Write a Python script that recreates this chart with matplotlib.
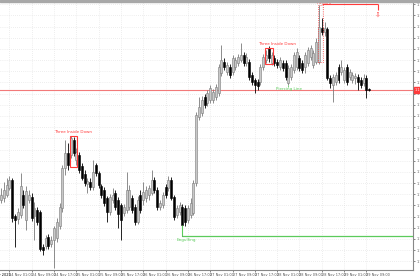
import numpy as np
import pandas as pd
import matplotlib
matplotlib.use("Agg")
import matplotlib.pyplot as plt
from matplotlib.patches import Rectangle
from matplotlib.transforms import blended_transform_factory

# hourly candles
opens = [1.1800, 1.1802, 1.1805, 1.1812, 1.1820, 1.1784, 1.1781, 1.1785, 1.1805, 1.1780,
         1.1800, 1.1803, 1.1784, 1.1790, 1.1788, 1.1753, 1.1754, 1.1763, 1.1756, 1.1760,
         1.1762, 1.1774, 1.1792, 1.1832, 1.1847, 1.1845, 1.1860, 1.1840, 1.1845, 1.1834,
         1.1826, 1.1816, 1.1818, 1.1813, 1.1835, 1.1827, 1.1814, 1.1810, 1.1802, 1.1788,
         1.1800, 1.1807, 1.1800, 1.1795, 1.1787, 1.1790, 1.1793, 1.1802, 1.1793, 1.1778,
         1.1805, 1.1800, 1.1802, 1.1805, 1.1807, 1.1820, 1.1810, 1.1793, 1.1795, 1.1813,
         1.1812, 1.1820, 1.1803, 1.1785, 1.1788, 1.1793, 1.1792, 1.1780, 1.1785, 1.1787,
         1.1817, 1.1883, 1.1887, 1.1903, 1.1897, 1.1900, 1.1900, 1.1903, 1.1907, 1.1927,
         1.1938, 1.1928, 1.1933, 1.1928, 1.1933, 1.1937, 1.1940, 1.1945, 1.1937, 1.1938,
         1.1925, 1.1920, 1.1918, 1.1918, 1.1933, 1.1940, 1.1952, 1.1937, 1.1942, 1.1938,
         1.1933, 1.1937, 1.1937, 1.1917, 1.1923, 1.1930, 1.1933, 1.1942, 1.1937, 1.1933,
         1.1937, 1.1943, 1.1935, 1.1938, 1.1938, 1.1972, 1.1968, 1.1971, 1.1922, 1.1915,
         1.1918, 1.1933, 1.1928, 1.1920, 1.1933, 1.1923, 1.1920, 1.1922, 1.1923, 1.1920,
         1.1917, 1.1922, 1.1911]
highs = [1.1812, 1.1818, 1.1822, 1.1824, 1.1822, 1.1786, 1.1792, 1.1827, 1.1810, 1.1814,
         1.1810, 1.1807, 1.1798, 1.1793, 1.1790, 1.1756, 1.1765, 1.1766, 1.1764, 1.1774,
         1.1782, 1.1797, 1.1835, 1.1860, 1.1857, 1.1864, 1.1863, 1.1852, 1.1848, 1.1837,
         1.1830, 1.1822, 1.1822, 1.1840, 1.1837, 1.1829, 1.1816, 1.1813, 1.1804, 1.1806,
         1.1812, 1.1810, 1.1803, 1.1797, 1.1796, 1.1828, 1.1815, 1.1805, 1.1796, 1.1804,
         1.1810, 1.1818, 1.1814, 1.1815, 1.1830, 1.1823, 1.1813, 1.1800, 1.1808, 1.1816,
         1.1824, 1.1823, 1.1805, 1.1795, 1.1798, 1.1796, 1.1795, 1.1795, 1.1802, 1.1820,
         1.1888, 1.1903, 1.1904, 1.1906, 1.1910, 1.1915, 1.1911, 1.1916, 1.1936, 1.1955,
         1.1942, 1.1938, 1.1936, 1.1945, 1.1943, 1.1946, 1.1957, 1.1948, 1.1947, 1.1941,
         1.1928, 1.1922, 1.1921, 1.1936, 1.1946, 1.1950, 1.1954, 1.1948, 1.1945, 1.1941,
         1.1943, 1.1940, 1.1940, 1.1935, 1.1936, 1.1948, 1.1952, 1.1945, 1.1940, 1.1948,
         1.1953, 1.1955, 1.1950, 1.1962, 1.1995, 1.1982, 1.1978, 1.1973, 1.1925, 1.1926,
         1.1928, 1.1936, 1.1940, 1.1933, 1.1936, 1.1931, 1.1928, 1.1927, 1.1926, 1.1923,
         1.1926, 1.1925, 1.1912]
lows = [1.1797, 1.1798, 1.1803, 1.1810, 1.1778, 1.1753, 1.1776, 1.1782, 1.1792, 1.1770,
        1.1797, 1.1779, 1.1760, 1.1775, 1.1749, 1.1745, 1.1751, 1.1751, 1.1753, 1.1732,
        1.1758, 1.1771, 1.1788, 1.1825, 1.1830, 1.1842, 1.1844, 1.1835, 1.1827, 1.1820,
        1.1814, 1.1807, 1.1810, 1.1810, 1.1824, 1.1812, 1.1802, 1.1794, 1.1778, 1.1785,
        1.1797, 1.1790, 1.1772, 1.1760, 1.1784, 1.1787, 1.1790, 1.1787, 1.1775, 1.1776,
        1.1787, 1.1795, 1.1798, 1.1800, 1.1805, 1.1807, 1.1790, 1.1790, 1.1792, 1.1802,
        1.1809, 1.1800, 1.1780, 1.1782, 1.1785, 1.1764, 1.1774, 1.1777, 1.1782, 1.1785,
        1.1814, 1.1880, 1.1884, 1.1892, 1.1894, 1.1897, 1.1897, 1.1900, 1.1904, 1.1924,
        1.1930, 1.1925, 1.1922, 1.1925, 1.1930, 1.1934, 1.1938, 1.1934, 1.1934, 1.1920,
        1.1915, 1.1907, 1.1910, 1.1915, 1.1930, 1.1937, 1.1938, 1.1935, 1.1934, 1.1932,
        1.1930, 1.1929, 1.1920, 1.1915, 1.1920, 1.1927, 1.1930, 1.1929, 1.1927, 1.1927,
        1.1934, 1.1940, 1.1932, 1.1936, 1.1936, 1.1965, 1.1964, 1.1920, 1.1912, 1.1898,
        1.1915, 1.1917, 1.1925, 1.1917, 1.1915, 1.1920, 1.1917, 1.1916, 1.1910, 1.1912,
        1.1914, 1.1902, 1.1909]
closes = [1.1805, 1.1810, 1.1815, 1.1820, 1.1782, 1.1780, 1.1788, 1.1814, 1.1795, 1.1809,
          1.1805, 1.1782, 1.1792, 1.1778, 1.1751, 1.1750, 1.1762, 1.1754, 1.1760, 1.1772,
          1.1778, 1.1793, 1.1832, 1.1847, 1.1835, 1.1862, 1.1847, 1.1848, 1.1830, 1.1822,
          1.1817, 1.1819, 1.1813, 1.1828, 1.1827, 1.1815, 1.1805, 1.1797, 1.1788, 1.1803,
          1.1805, 1.1793, 1.1786, 1.1780, 1.1793, 1.1810, 1.1810, 1.1790, 1.1778, 1.1800,
          1.1790, 1.1808, 1.1810, 1.1812, 1.1820, 1.1810, 1.1793, 1.1797, 1.1805, 1.1805,
          1.1820, 1.1802, 1.1783, 1.1792, 1.1795, 1.1775, 1.1778, 1.1792, 1.1797, 1.1817,
          1.1885, 1.1893, 1.1900, 1.1895, 1.1907, 1.1912, 1.1908, 1.1913, 1.1933, 1.1940,
          1.1933, 1.1935, 1.1925, 1.1942, 1.1940, 1.1943, 1.1945, 1.1937, 1.1943, 1.1923,
          1.1918, 1.1915, 1.1914, 1.1933, 1.1943, 1.1945, 1.1942, 1.1945, 1.1937, 1.1935,
          1.1940, 1.1932, 1.1923, 1.1932, 1.1933, 1.1945, 1.1948, 1.1932, 1.1930, 1.1945,
          1.1950, 1.1952, 1.1947, 1.1958, 1.1973, 1.1968, 1.1972, 1.1922, 1.1917, 1.1923,
          1.1925, 1.1920, 1.1933, 1.1930, 1.1918, 1.1928, 1.1925, 1.1924, 1.1918, 1.1915,
          1.1922, 1.1910, 1.1910]

start_time = "2025-11-23 22:00"
first_label = "23 Nov 2025"
price_levels = [1.19957 - 0.001117 * k for k in range(24)]

# pattern marks
pattern_up = "Three Inside Down"
harami_label = "Harami"
piercing_label = "Piercing Line"
engulf_label = "Engulfing"
piercing_level = 1.1910
engulf_level = 1.1764
harami_level = 1.19957

o = np.array(opens)
h = np.array(highs)
l = np.array(lows)
c = np.array(closes)
x = np.arange(len(o))
times = pd.date_range(start_time, periods=len(o), freq="h")

fig = plt.figure(figsize=(4.2, 2.8), dpi=100)
ax = fig.add_axes([0, 10 / 280, 413 / 420, 268 / 280])
fig.patches.append(Rectangle((0, 278 / 280), 1, 2 / 280, transform=fig.transFigure,
                             color="#a8a8a8", zorder=5))

red = "#ff3b3b"
green = "#5ccb5c"
up = c >= o

ax.vlines(x[up], l[up], h[up], color="#7a7a7a", lw=0.6, zorder=3)
ax.vlines(x[~up], l[~up], h[~up], color="black", lw=0.6, zorder=3)
ax.bar(x[up], np.maximum(c[up] - o[up], 0.00005), bottom=o[up], width=0.7,
       color="#c8c8c8", edgecolor="#7a7a7a", lw=0.4, zorder=4)
ax.bar(x[~up], c[~up] - o[~up], bottom=o[~up], width=0.7,
       color="black", edgecolor="black", lw=0.4, zorder=4)

# horizontal levels
ax.axhline(piercing_level, color="#f27a7a", lw=0.8, zorder=2)
ax.hlines(engulf_level, 65, 160, color=green, lw=0.9, zorder=2)
ax.vlines(65, engulf_level, 1.1775, color=green, lw=0.8, zorder=5)
ax.text(66.3, engulf_level - 0.0002, engulf_label, color=green, fontsize=3,
        ha="center", va="top")

# three inside down boxes
ax.add_patch(Rectangle((24.6, 1.1833), 2.8, 0.0031, fill=False, ec=red, lw=0.8, zorder=5))
ax.text(26, 1.1866, pattern_up, color=red, fontsize=3, ha="center", va="bottom")
ax.add_patch(Rectangle((94.6, 1.1936), 2.8, 0.0016, fill=False, ec=red, lw=0.8, zorder=5))
ax.text(98.8, 1.1954, pattern_up, color=red, fontsize=3, ha="center", va="bottom")

# piercing line
ax.vlines(103, 1.1913, 1.1915, color=green, lw=0.6, zorder=5)
ax.text(103.3, piercing_level + 0.0001, piercing_label, color=green, fontsize=3,
        ha="center", va="center")

# harami
ax.add_patch(Rectangle((113.7, 1.1938), 1.6, 0.0057, fill=False, ec=red, lw=0.6,
                       ls=":", zorder=5))
ax.hlines(harami_level, 115, 135.1, color=red, lw=0.8, zorder=5)
ax.vlines(135.1, harami_level - 0.0006, harami_level, color=red, lw=0.8, zorder=5)
ax.text(135.1, harami_level - 0.0010, "\u21e9", color=red, fontsize=5,
        ha="center", va="center", zorder=5)
ax.text(115.8, 1.1997, harami_label, color=red, fontsize=3, ha="center", va="center")

ax.set_xlim(-0.36, 147.7)
ax.set_ylim(1.1730, 1.1998)

tick_idx = list(range(3, len(o), 8))
ax.set_xticks(tick_idx)
ax.set_xticklabels([times[i].strftime("%d %b %H:%M") for i in tick_idx],
                   fontsize=2.5, ha="left")
trans = blended_transform_factory(ax.transData, ax.transAxes)
ax.text(-4.6, -0.012, first_label, transform=trans, fontsize=2.5, ha="left", va="top",
        clip_on=False)

ax.set_yticks(price_levels)
ax.set_yticklabels([f"{p:.5f}" for p in price_levels], fontsize=2.5)
ax.yaxis.tick_right()
ax.tick_params(axis="both", length=1.5, width=0.5, pad=1, colors="#555555")

ax.grid(True, color="#dddddd", lw=0.5, ls=(0, (1, 2)))
for side in ["left", "top"]:
    ax.spines[side].set_visible(False)
for side in ["right", "bottom"]:
    ax.spines[side].set_color("#888888")
    ax.spines[side].set_linewidth(0.8)

# current price box
ax.text(1.004, (piercing_level - 1.1730) / 0.0268, f"{piercing_level:.5f}",
        transform=ax.transAxes, fontsize=2.5, color="white", ha="left", va="center",
        bbox=dict(boxstyle="square,pad=0.3", fc=red, ec=red), clip_on=False, zorder=6)

fig.savefig("out.png", dpi=100)
